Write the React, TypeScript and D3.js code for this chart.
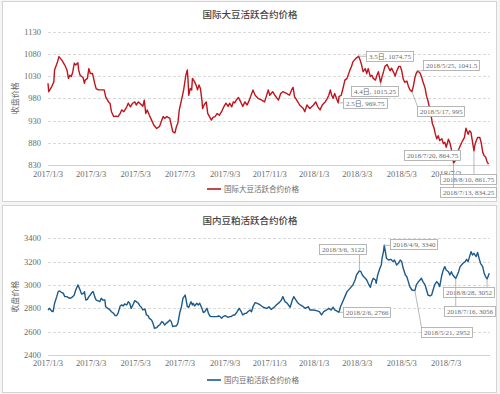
import { useRef, useEffect } from 'react';
import * as d3 from 'd3';

const parseDate = d3.timeParse('%Y-%m-%d');

// CBOT soybean most-active contract
const soyDates = [
  '2017-01-03', '2017-01-04', '2017-01-08', '2017-01-11', '2017-01-12', '2017-01-16', '2017-01-18', '2017-01-22',
  '2017-01-26', '2017-01-29', '2017-01-31', '2017-02-02', '2017-02-04', '2017-02-06', '2017-02-08', '2017-02-10',
  '2017-02-13', '2017-02-14', '2017-02-16', '2017-02-20', '2017-02-22', '2017-02-23', '2017-02-26', '2017-02-28',
  '2017-03-02', '2017-03-05', '2017-03-08', '2017-03-10', '2017-03-13', '2017-03-17', '2017-03-21', '2017-03-23',
  '2017-03-27', '2017-03-29', '2017-03-31', '2017-04-03', '2017-04-06', '2017-04-09', '2017-04-12', '2017-04-14',
  '2017-04-17', '2017-04-21', '2017-04-23', '2017-04-26', '2017-04-29', '2017-05-02', '2017-05-04', '2017-05-07',
  '2017-05-09', '2017-05-13', '2017-05-15', '2017-05-17', '2017-05-19', '2017-05-22', '2017-05-25', '2017-05-28',
  '2017-06-01', '2017-06-05', '2017-06-08', '2017-06-10', '2017-06-12', '2017-06-15', '2017-06-19', '2017-06-21',
  '2017-06-23', '2017-06-26', '2017-06-28', '2017-06-30', '2017-07-02', '2017-07-05', '2017-07-08', '2017-07-11',
  '2017-07-13', '2017-07-14', '2017-07-15', '2017-07-17', '2017-07-19', '2017-07-20', '2017-07-23', '2017-07-25',
  '2017-07-27', '2017-07-29', '2017-07-31', '2017-08-02', '2017-08-03', '2017-08-05', '2017-08-08', '2017-08-10',
  '2017-08-12', '2017-08-15', '2017-08-17', '2017-08-20', '2017-08-23', '2017-08-26', '2017-08-29', '2017-09-01',
  '2017-09-04', '2017-09-07', '2017-09-09', '2017-09-12', '2017-09-14', '2017-09-16', '2017-09-18', '2017-09-21',
  '2017-09-23', '2017-09-25', '2017-09-27', '2017-09-30', '2017-10-03', '2017-10-06', '2017-10-11', '2017-10-14',
  '2017-10-18', '2017-10-23', '2017-10-27', '2017-11-01', '2017-11-03', '2017-11-07', '2017-11-10', '2017-11-15',
  '2017-11-18', '2017-11-21', '2017-11-26', '2017-11-30', '2017-12-03', '2017-12-05', '2017-12-07', '2017-12-10',
  '2017-12-14', '2017-12-19', '2017-12-21', '2017-12-24', '2017-12-28', '2018-01-02', '2018-01-05', '2018-01-08',
  '2018-01-11', '2018-01-14', '2018-01-18', '2018-01-21', '2018-01-23', '2018-01-25', '2018-01-27', '2018-01-29',
  '2018-01-31', '2018-02-05', '2018-02-06', '2018-02-09', '2018-02-12', '2018-02-14', '2018-02-17', '2018-02-21',
  '2018-02-23', '2018-02-25', '2018-03-01', '2018-03-05', '2018-03-07', '2018-03-09', '2018-03-11', '2018-03-14',
  '2018-03-16', '2018-03-18', '2018-03-21', '2018-03-23', '2018-03-25', '2018-03-28', '2018-03-30', '2018-04-01',
  '2018-04-04', '2018-04-06', '2018-04-08', '2018-04-10', '2018-04-13', '2018-04-15', '2018-04-17', '2018-04-19',
  '2018-04-22', '2018-04-24', '2018-04-26', '2018-04-29', '2018-05-01', '2018-05-03', '2018-05-05', '2018-05-07',
  '2018-05-10', '2018-05-12', '2018-05-14', '2018-05-17', '2018-05-19', '2018-05-21', '2018-05-23', '2018-05-25',
  '2018-05-28', '2018-05-30', '2018-06-01', '2018-06-04', '2018-06-06', '2018-06-08', '2018-06-11', '2018-06-13',
  '2018-06-14', '2018-06-16', '2018-06-18', '2018-06-20', '2018-06-22', '2018-06-24', '2018-06-27', '2018-06-29',
  '2018-07-01', '2018-07-03', '2018-07-06', '2018-07-08', '2018-07-10', '2018-07-13', '2018-07-16', '2018-07-18',
  '2018-07-20', '2018-07-24', '2018-07-28', '2018-07-30', '2018-08-02', '2018-08-04', '2018-08-06', '2018-08-07',
  '2018-08-10', '2018-08-11', '2018-08-13', '2018-08-15', '2018-08-18', '2018-08-20', '2018-08-22', '2018-08-24',
  '2018-08-26', '2018-08-28', '2018-08-30',
];
const soyValues = [
  1014, 995, 1006, 1017, 1044, 1062, 1074, 1066,
  1055, 1044, 1025, 1032, 1029, 1040, 1059, 1055,
  1060, 1044, 1032, 1027, 1014, 1021, 1025, 1047,
  1036, 1036, 1014, 1002, 999, 999, 999, 984,
  972, 969, 950, 939, 940, 939, 946, 954,
  950, 961, 969, 961, 969, 972, 965, 972,
  969, 962, 976, 946, 954, 942, 931, 920,
  912, 917, 931, 939, 935, 939, 935, 920,
  905, 902, 916, 924, 954, 976, 999, 1032,
  1044, 1021, 987, 1002, 999, 1025, 1017, 1010,
  999, 1010, 1002, 976, 957, 965, 972, 946,
  940, 931, 937, 939, 946, 942, 950, 961,
  969, 962, 969, 961, 972, 970, 976, 982,
  976, 969, 962, 972, 965, 976, 999, 987,
  980, 976, 972, 999, 987, 995, 987, 976,
  991, 995, 991, 987, 999, 1005, 984, 976,
  965, 957, 950, 965, 957, 965, 972, 961,
  954, 965, 972, 980, 987, 999, 987, 980,
  991, 969.75, 984, 987, 1006, 1021, 1025, 1044,
  1051, 1062, 1070, 1074.75, 1066, 1055, 1040, 1047,
  1036, 1047, 1029, 1032, 1025, 1021, 1032, 1040,
  1015.25, 1029, 1040, 1052, 1056, 1049, 1042, 1048,
  1038, 1030, 1041, 1052, 1052, 1042, 1024, 1016,
  1019, 1008, 1000, 995, 1008, 1026, 1037, 1041.5,
  1037, 1029, 1018, 1003, 985, 974, 952, 934,
  923, 915, 900, 889, 896, 885, 889, 878,
  881, 870, 888, 880, 866, 834.25, 841, 852,
  864.75, 880, 892, 913, 899, 907, 903, 892,
  861.75, 873, 884, 892, 892, 880, 859, 851,
  848, 837, 832,
];

// DCE soybean meal most-active contract
const mealDates = [
  '2017-01-03', '2017-01-05', '2017-01-08', '2017-01-10', '2017-01-12', '2017-01-15', '2017-01-17', '2017-01-19',
  '2017-01-22', '2017-01-24', '2017-01-26', '2017-01-29', '2017-01-31', '2017-02-03', '2017-02-06', '2017-02-08',
  '2017-02-10', '2017-02-13', '2017-02-14', '2017-02-16', '2017-02-18', '2017-02-21', '2017-02-22', '2017-02-23',
  '2017-02-24', '2017-02-26', '2017-02-28', '2017-03-02', '2017-03-04', '2017-03-06', '2017-03-08', '2017-03-10',
  '2017-03-13', '2017-03-15', '2017-03-17', '2017-03-19', '2017-03-22', '2017-03-23', '2017-03-26', '2017-03-29',
  '2017-03-31', '2017-04-03', '2017-04-05', '2017-04-07', '2017-04-09', '2017-04-12', '2017-04-14', '2017-04-16',
  '2017-04-18', '2017-04-21', '2017-04-23', '2017-04-25', '2017-04-27', '2017-04-30', '2017-05-02', '2017-05-04',
  '2017-05-07', '2017-05-09', '2017-05-11', '2017-05-13', '2017-05-16', '2017-05-18', '2017-05-20', '2017-05-22',
  '2017-05-25', '2017-05-27', '2017-05-29', '2017-06-01', '2017-06-03', '2017-06-05', '2017-06-08', '2017-06-10',
  '2017-06-12', '2017-06-14', '2017-06-17', '2017-06-19', '2017-06-21', '2017-06-23', '2017-06-26', '2017-06-28',
  '2017-06-30', '2017-07-03', '2017-07-05', '2017-07-07', '2017-07-10', '2017-07-11', '2017-07-13', '2017-07-15',
  '2017-07-18', '2017-07-20', '2017-07-21', '2017-07-23', '2017-07-26', '2017-07-28', '2017-07-30', '2017-08-02',
  '2017-08-04', '2017-08-06', '2017-08-09', '2017-08-11', '2017-08-13', '2017-08-15', '2017-08-18', '2017-08-22',
  '2017-08-25', '2017-08-27', '2017-08-29', '2017-08-31', '2017-09-03', '2017-09-05', '2017-09-07', '2017-09-09',
  '2017-09-11', '2017-09-14', '2017-09-16', '2017-09-18', '2017-09-22', '2017-09-25', '2017-09-27', '2017-09-30',
  '2017-10-02', '2017-10-04', '2017-10-07', '2017-10-09', '2017-10-11', '2017-10-14', '2017-10-17', '2017-10-21',
  '2017-10-25', '2017-10-30', '2017-11-02', '2017-11-05', '2017-11-09', '2017-11-12', '2017-11-16', '2017-11-19',
  '2017-11-21', '2017-11-24', '2017-11-27', '2017-12-01', '2017-12-04', '2017-12-06', '2017-12-09', '2017-12-12',
  '2017-12-15', '2017-12-19', '2017-12-22', '2017-12-26', '2017-12-28', '2018-01-02', '2018-01-06', '2018-01-10',
  '2018-01-13', '2018-01-16', '2018-01-20', '2018-01-23', '2018-01-26', '2018-01-29', '2018-01-31', '2018-02-03',
  '2018-02-06', '2018-02-08', '2018-02-11', '2018-02-14', '2018-02-17', '2018-02-21', '2018-02-25', '2018-02-28',
  '2018-03-02', '2018-03-06', '2018-03-08', '2018-03-10', '2018-03-12', '2018-03-14', '2018-03-16', '2018-03-18',
  '2018-03-21', '2018-03-23', '2018-03-25', '2018-03-28', '2018-03-29', '2018-03-31', '2018-04-03', '2018-04-05',
  '2018-04-06', '2018-04-08', '2018-04-09', '2018-04-11', '2018-04-12', '2018-04-15', '2018-04-18', '2018-04-21',
  '2018-04-23', '2018-04-26', '2018-04-29', '2018-05-01', '2018-05-03', '2018-05-05', '2018-05-08', '2018-05-10',
  '2018-05-12', '2018-05-14', '2018-05-17', '2018-05-21', '2018-05-23', '2018-05-26', '2018-05-28', '2018-05-30',
  '2018-06-01', '2018-06-04', '2018-06-06', '2018-06-08', '2018-06-11', '2018-06-13', '2018-06-15', '2018-06-17',
  '2018-06-20', '2018-06-22', '2018-06-24', '2018-06-27', '2018-06-29', '2018-07-01', '2018-07-03', '2018-07-06',
  '2018-07-08', '2018-07-10', '2018-07-12', '2018-07-16', '2018-07-20', '2018-07-22', '2018-07-24', '2018-07-26',
  '2018-07-29', '2018-07-31', '2018-08-02', '2018-08-04', '2018-08-06', '2018-08-08', '2018-08-10', '2018-08-13',
  '2018-08-15', '2018-08-17', '2018-08-19', '2018-08-22', '2018-08-24', '2018-08-26', '2018-08-28', '2018-08-31',
];
const mealValues = [
  2786, 2800, 2777, 2771, 2843, 2900, 2943, 2949,
  2934, 2929, 2900, 2900, 2891, 2886, 2900, 2914,
  2957, 3000, 2986, 2957, 2923, 2929, 2943, 2900,
  2871, 2877, 2900, 2914, 2934, 2943, 2900, 2871,
  2863, 2857, 2886, 2871, 2871, 2814, 2800, 2786,
  2771, 2757, 2737, 2737, 2757, 2820, 2829, 2820,
  2837, 2829, 2857, 2843, 2800, 2837, 2866, 2857,
  2843, 2820, 2809, 2786, 2794, 2743, 2737, 2714,
  2700, 2671, 2629, 2634, 2649, 2657, 2686, 2677,
  2657, 2671, 2686, 2700, 2686, 2643, 2649, 2649,
  2671, 2771, 2814, 2886, 2914, 2886, 2814, 2809,
  2857, 2829, 2843, 2820, 2843, 2829, 2843, 2800,
  2763, 2771, 2800, 2757, 2734, 2729, 2729, 2729,
  2734, 2729, 2714, 2729, 2737, 2729, 2723, 2729,
  2729, 2743, 2743, 2757, 2800, 2771, 2743, 2757,
  2757, 2771, 2786, 2771, 2814, 2849, 2843, 2829,
  2809, 2800, 2814, 2791, 2809, 2829, 2849, 2871,
  2900, 2857, 2843, 2809, 2871, 2900, 2871, 2843,
  2829, 2814, 2800, 2814, 2786, 2786, 2780, 2771,
  2743, 2771, 2786, 2800, 2786, 2809, 2786, 2777,
  2766, 2814, 2857, 2900, 2943, 2971, 3000, 3043,
  3086, 3122, 3114, 3086, 3071, 3057, 3043, 3014,
  2980, 3029, 3057, 3043, 3014, 3086, 3143, 3171,
  3229, 3286, 3340, 3271, 3229, 3214, 3220, 3200,
  3214, 3171, 3191, 3214, 3200, 3143, 3086, 3071,
  3029, 2986, 2957, 2952, 3000, 3029, 3043, 3057,
  3029, 3000, 2957, 2914, 2906, 2914, 2957, 3000,
  3029, 3014, 2986, 3086, 3129, 3157, 3129, 3114,
  3086, 3114, 3086, 3056, 3114, 3157, 3171, 3186,
  3200, 3220, 3200, 3243, 3286, 3257, 3271, 3243,
  3279, 3229, 3186, 3157, 3100, 3070, 3052, 3100,
];

const xTickDates = ['2017-01-03', '2017-03-03', '2017-05-03', '2017-07-03', '2017-09-03', '2017-11-03', '2018-01-03', '2018-03-03', '2018-05-03', '2018-07-03'];
const xTickLabels = ['2017/1/3', '2017/3/3', '2017/5/3', '2017/7/3', '2017/9/3', '2017/11/3', '2018/1/3', '2018/3/3', '2018/5/3', '2018/7/3'];
const xDomain = ['2017-01-03', '2018-09-01'];

const soyTicks = [830, 880, 930, 980, 1030, 1080, 1130];
const mealTicks = [2400, 2600, 2800, 3000, 3200, 3400];

const soyNoteDates = ['2018-03-05', '2018-02-05', '2018-04-04', '2018-05-25', '2018-05-17', '2018-07-20', '2018-08-10', '2018-07-13'];
const soyNoteValues = [1074.75, 969.75, 1015.25, 1041.5, 995, 864.75, 861.75, 834.25];
const soyNoteLabels = ['3.5日, 1074.75', '2.5日, 969.75', '4.4日, 1015.25', '2018/5/25, 1041.5', '2018/5/17, 995', '2018/7/20, 864.75', '2018/8/10, 861.75', '2018/7/13, 834.25'];

const mealNoteDates = ['2018-03-06', '2018-04-09', '2018-02-06', '2018-05-21', '2018-08-28', '2018-07-16'];
const mealNoteValues = [3122, 3340, 2766, 2952, 3052, 3056];
const mealNoteLabels = ['2018/3/6, 3122', '2018/4/9, 3340', '2018/2/6, 2766', '2018/5/21, 2952', '2018/8/28, 3052', '2018/7/16, 3056'];

// box offsets (left, top) relative to the annotated point
const soyNoteOffsets: [number, number][] = [[7, -5], [5, -5], [-30, 3], [5, -11], [5, 14], [-55, 0], [-30, 23], [-10, 24]];
const mealNoteOffsets: [number, number][] = [[-40, -27], [6, -6], [4, -5], [6, 36], [-44, 8], [-12, 28]];

const NUM_FONT = '"Liberation Serif", "Noto Sans CJK SC", serif';
const CJK_FONT = '"Noto Sans CJK SC", sans-serif';
const X0 = 48;
const X1 = 490;

interface PanelConfig {
  top: number;
  bottom: number;
  title: string;
  titleY: number;
  yRange: [number, number];
  ticks: number[];
  dates: string[];
  values: number[];
  color: string;
  tickY: number;
  legendY: number;
  noteDates: string[];
  noteValues: number[];
  noteLabels: string[];
  noteOffsets: [number, number][];
}

function drawPanel(svg: d3.Selection<SVGSVGElement, unknown, null, undefined>, cfg: PanelConfig) {
  const g = svg.append('g');

  g.append('rect')
    .attr('x', 2.5).attr('y', cfg.top + 0.5)
    .attr('width', 494).attr('height', cfg.bottom - cfg.top)
    .attr('fill', '#fff').attr('stroke', '#d4d4d4');

  const x = d3.scaleTime()
    .domain(xDomain.map(d => parseDate(d) as Date))
    .range([X0, X1]);
  const y = d3.scaleLinear()
    .domain([cfg.ticks[0], cfg.ticks[cfg.ticks.length - 1]])
    .range(cfg.yRange);

  // gridlines
  g.selectAll('line.grid')
    .data(cfg.ticks.slice(1))
    .join('line')
    .attr('class', 'grid')
    .attr('x1', X0).attr('x2', X1)
    .attr('y1', d => Math.round(y(d)) + 0.5).attr('y2', d => Math.round(y(d)) + 0.5)
    .attr('stroke', '#d9d9d9').attr('stroke-dasharray', '3,2');

  g.append('line')
    .attr('x1', X0).attr('x2', X1)
    .attr('y1', Math.round(y(cfg.ticks[0])) + 0.5).attr('y2', Math.round(y(cfg.ticks[0])) + 0.5)
    .attr('stroke', '#d0d0d0');

  g.selectAll('text.ytick')
    .data(cfg.ticks)
    .join('text')
    .attr('class', 'ytick')
    .attr('x', 41).attr('y', d => y(d) + 3)
    .attr('text-anchor', 'end')
    .attr('font-family', NUM_FONT).attr('font-size', 8.5).attr('fill', '#6b6b6b')
    .text(d => d);

  g.selectAll('text.xtick')
    .data(xTickDates)
    .join('text')
    .attr('class', 'xtick')
    .attr('x', d => x(parseDate(d) as Date))
    .attr('y', cfg.tickY)
    .attr('text-anchor', 'middle')
    .attr('font-family', NUM_FONT).attr('font-size', 8.5).attr('fill', '#6b6b6b')
    .text((_d, i) => xTickLabels[i]);

  // y axis title
  const midY = (cfg.yRange[0] + cfg.yRange[1]) / 2;
  g.append('text')
    .attr('transform', `translate(18,${midY}) rotate(-90)`)
    .attr('text-anchor', 'middle')
    .attr('font-family', CJK_FONT).attr('font-size', 8).attr('fill', '#6b6b6b')
    .text('收盘价格');

  g.append('text')
    .attr('x', 250).attr('y', cfg.titleY)
    .attr('text-anchor', 'middle')
    .attr('font-family', CJK_FONT).attr('font-size', 9.5).attr('font-weight', 500).attr('fill', '#444')
    .text(cfg.title);

  const pts = cfg.dates.map((d, i) => [x(parseDate(d) as Date), y(cfg.values[i])] as [number, number]);
  g.append('path')
    .attr('d', d3.line()(pts))
    .attr('fill', 'none')
    .attr('stroke', cfg.color)
    .attr('stroke-width', 1.4)
    .attr('stroke-linejoin', 'round');

  // annotations
  cfg.noteLabels.forEach((label, i) => {
    const px = x(parseDate(cfg.noteDates[i]) as Date);
    const py = y(cfg.noteValues[i]);
    const [dx, dy] = cfg.noteOffsets[i];
    const ng = g.append('g');
    const t = ng.append('text')
      .attr('font-family', NUM_FONT).attr('font-size', 7).attr('fill', '#6b6b6b')
      .text(label);
    const w = Math.round((t.node() as SVGTextElement).getComputedTextLength() + 5);
    const h = 10;
    const left = Math.min(Math.round(px + dx), 496 - w) + 0.5;
    const top = Math.round(py + dy) + 0.5;
    const cx = Math.max(left, Math.min(px, left + w));
    const cy = Math.max(top, Math.min(py, top + h));
    ng.insert('line', 'text')
      .attr('x1', px).attr('y1', py).attr('x2', cx).attr('y2', cy)
      .attr('stroke', '#a6a6a6').attr('stroke-width', 0.8);
    ng.insert('rect', 'text')
      .attr('x', left).attr('y', top).attr('width', w).attr('height', h)
      .attr('fill', '#fff').attr('stroke', '#a6a6a6').attr('stroke-width', 0.8);
    t.attr('x', left + 2.5).attr('y', top + 7.4);
  });

  // legend
  g.append('line')
    .attr('x1', 207).attr('x2', 221)
    .attr('y1', cfg.legendY).attr('y2', cfg.legendY)
    .attr('stroke', cfg.color).attr('stroke-width', 1.6);
  g.append('text')
    .attr('x', 224).attr('y', cfg.legendY + 2.8)
    .attr('font-family', CJK_FONT).attr('font-size', 7.5).attr('fill', '#6b6b6b')
    .text(cfg.title);
}

export default function App() {
  const svgRef = useRef<SVGSVGElement>(null);

  useEffect(() => {
    if (!svgRef.current) return;
    const svg = d3.select(svgRef.current);
    svg.selectAll('*').remove();

    drawPanel(svg, {
      top: 1, bottom: 201,
      title: '国际大豆活跃合约价格', titleY: 18,
      yRange: [165, 31.7], ticks: soyTicks,
      dates: soyDates, values: soyValues, color: '#c0141c',
      tickY: 177, legendY: 189,
      noteDates: soyNoteDates, noteValues: soyNoteValues, noteLabels: soyNoteLabels, noteOffsets: soyNoteOffsets,
    });
    drawPanel(svg, {
      top: 205, bottom: 392,
      title: '国内豆粕活跃合约价格', titleY: 224,
      yRange: [355, 238.3], ticks: mealTicks,
      dates: mealDates, values: mealValues, color: '#1c5a8c',
      tickY: 366, legendY: 380,
      noteDates: mealNoteDates, noteValues: mealNoteValues, noteLabels: mealNoteLabels, noteOffsets: mealNoteOffsets,
    });
  }, []);

  return (
    <svg
      ref={svgRef}
      width={500}
      height={394}
      style={{ position: 'absolute', left: 0, top: 0, background: '#f5f5f5' }}
    />
  );
}
